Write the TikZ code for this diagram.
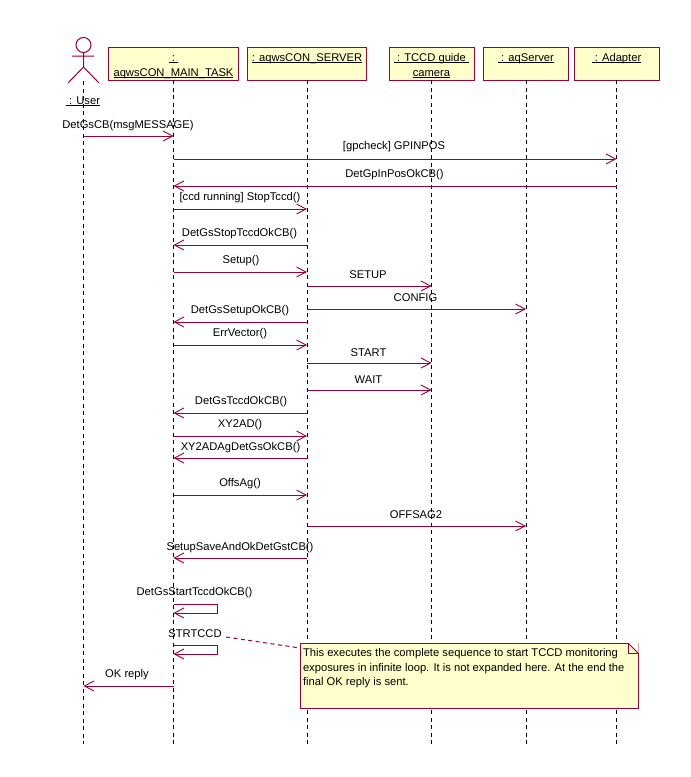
\documentclass[tikz,border=0pt]{standalone}
\usepackage{fontspec}
\setmainfont{Liberation Sans}
\usetikzlibrary{arrows.meta}
\definecolor{umlline}{HTML}{990033}
\definecolor{umlfill}{HTML}{FFFFCC}
\newcommand{\ulin}[1]{\underline{\smash{#1}}}
\newcommand{\headtext}[2]{\parbox[c][33pt][t]{#1}{\centering\baselineskip=15pt \rule{0pt}{14pt}#2}}
\newcommand{\seqmsg}[3]{\draw[msgline] (#1 |- 0,#3) -- (#2 |- 0,#3);}
\newcommand{\seqlabel}[4]{\node[msglabel] (#1) at (#2,#3) {#4};}
\tikzset{
  headbox/.style={draw=umlline,fill=umlfill,line width=1pt,minimum height=33pt,inner sep=0pt,outer sep=0pt,font=\fontsize{11.2}{15}\selectfont},
  lifeline/.style={black,line width=1pt,dash pattern=on 4pt off 3.5pt},
  msgline/.style={umlline,line width=1pt,-{Straight Barb[length=9.5pt,width=10pt,line width=.9pt]}},
  msglabel/.style={inner sep=0pt,yshift=-1.5pt,font=\fontsize{11.2}{13}\selectfont},
  umlpath/.style={umlline,line width=1pt}
}
\begin{document}
\begin{tikzpicture}[x=1pt,y=-1pt]
\useasboundingbox[fill=white] (0,0) rectangle (691,777);
% actor
\draw[umlpath] (83.5,45) circle[radius=7.5pt];
\draw[umlpath] (83.5,52.5) -- (83.5,67) (72,56) -- (94,56) (68,83) -- (83.5,67) -- (99,83);
\coordinate (user) at (83.5,81);
% heads
\node[headbox,minimum width=130pt] (main) at (173.5,63.5) {\headtext{128pt}{\ulin{~:~}\\\ulin{aqwsCON\_MAIN\_TASK}}};
\node[headbox,minimum width=119pt] (server) at (307,63.5) {\headtext{117pt}{\ulin{: aqwsCON\_SERVER}}};
\node[headbox,minimum width=85pt] (tccd) at (431.5,63.5) {\headtext{83pt}{\ulin{~: TCCD guide~}\\\ulin{camera}}};
\node[headbox,minimum width=85pt] (aq) at (526,63.5) {\headtext{83pt}{\ulin{~: aqServer}}};
\node[headbox,minimum width=85pt] (adapter) at (616.5,63.5) {\headtext{83pt}{\ulin{~: Adapter}}};
% lifelines
\draw[lifeline] (user) -- (user |- 0,744);
\draw[lifeline] (main.south) -- (main |- 0,744);
\draw[lifeline] (server.south) -- (server |- 0,744);
\draw[lifeline] (tccd.south) -- (tccd |- 0,744);
\draw[lifeline] (aq.south) -- (aq |- 0,744);
\draw[lifeline] (adapter.south) -- (adapter |- 0,744);
\node[msglabel] (userlabel) at (83,103.5) {\ulin{~: User}};
% messages
\seqmsg{user}{main}{136}
\seqmsg{main}{adapter}{159}
\seqmsg{adapter}{main}{186}
\seqmsg{main}{server}{209}
\seqmsg{server}{main}{245}
\seqmsg{main}{server}{272}
\seqmsg{server}{tccd}{286}
\seqmsg{server}{aq}{309}
\seqmsg{server}{main}{322}
\seqmsg{main}{server}{345}
\seqmsg{server}{tccd}{363}
\seqmsg{server}{tccd}{390}
\seqmsg{server}{main}{413}
\seqmsg{main}{server}{436}
\seqmsg{server}{main}{458}
\seqmsg{main}{server}{495}
\seqmsg{server}{aq}{526}
\seqmsg{server}{main}{558}
\draw[msgline] (main |- 0,604) -- ++(44,0) -- ++(0,9) -- (main |- 0,613);
\draw[msgline] (main |- 0,645) -- ++(44,0) -- ++(0,9) -- (main |- 0,654);
\seqmsg{main}{user}{686}
% labels
\seqlabel{m1}{128}{124}{DetGsCB(msgMESSAGE)}
\seqlabel{m2}{394}{145}{[gpcheck] GPINPOS}
\seqlabel{m3}{394.5}{173}{DetGpInPosOkCB()}
\seqlabel{m4}{240}{196}{[ccd running] StopTccd()}
\seqlabel{m5}{239.5}{232}{DetGsStopTccdOkCB()}
\seqlabel{m6}{241}{259}{Setup()}
\seqlabel{m7}{368}{273}{SETUP}
\seqlabel{m8}{415.5}{296}{CONFIG}
\seqlabel{m9}{240}{309}{DetGsSetupOkCB()}
\seqlabel{m10}{240}{332}{ErrVector()}
\seqlabel{m11}{368.5}{351}{START}
\seqlabel{m12}{368.5}{378}{WAIT}
\seqlabel{m13}{241}{400}{DetGsTccdOkCB()}
\seqlabel{m14}{240}{423}{XY2AD()}
\seqlabel{m15}{240.5}{446}{XY2ADAgDetGsOkCB()}
\seqlabel{m16}{240}{482}{OffsAg()}
\seqlabel{m17}{416}{513}{OFFSAG2}
\seqlabel{m18}{240}{546}{SetupSaveAndOkDetGstCB()}
\seqlabel{m19}{194.5}{591}{DetGsStartTccdOkCB()}
\seqlabel{m20}{195}{632}{STRTCCD}
\seqlabel{m21}{127}{673}{OK reply}
% note
\node[draw=umlline,fill=umlfill,line width=1pt,minimum width=338pt,minimum height=65pt,inner sep=0pt,outer sep=0pt,font=\fontsize{11.2}{14.5}\selectfont] (note) at (469,675.5)
  {\parbox[c][65pt][t]{332pt}{\raggedright\rule{0pt}{13.5pt}This executes the complete sequence to start TCCD monitoring\\exposures in infinite loop. It is not expanded here. At the end the\\final OK reply is sent.}};
\fill[white] ([xshift=-10pt,yshift=.5pt]note.north east) -- ([xshift=.5pt,yshift=.5pt]note.north east) -- ([xshift=.5pt,yshift=-10pt]note.north east) -- cycle;
\draw[umlpath] ([xshift=-10pt]note.north east) -- ([yshift=-10pt]note.north east);
\draw[umlpath] ([xshift=-10pt]note.north east) |- ([yshift=-10pt]note.north east);
\coordinate (noteanchor) at (226,637);
\draw[umlpath,dash pattern=on 4pt off 3.5pt] (noteanchor) -- (note.north west |- 0,648);
\end{tikzpicture}
\end{document}
